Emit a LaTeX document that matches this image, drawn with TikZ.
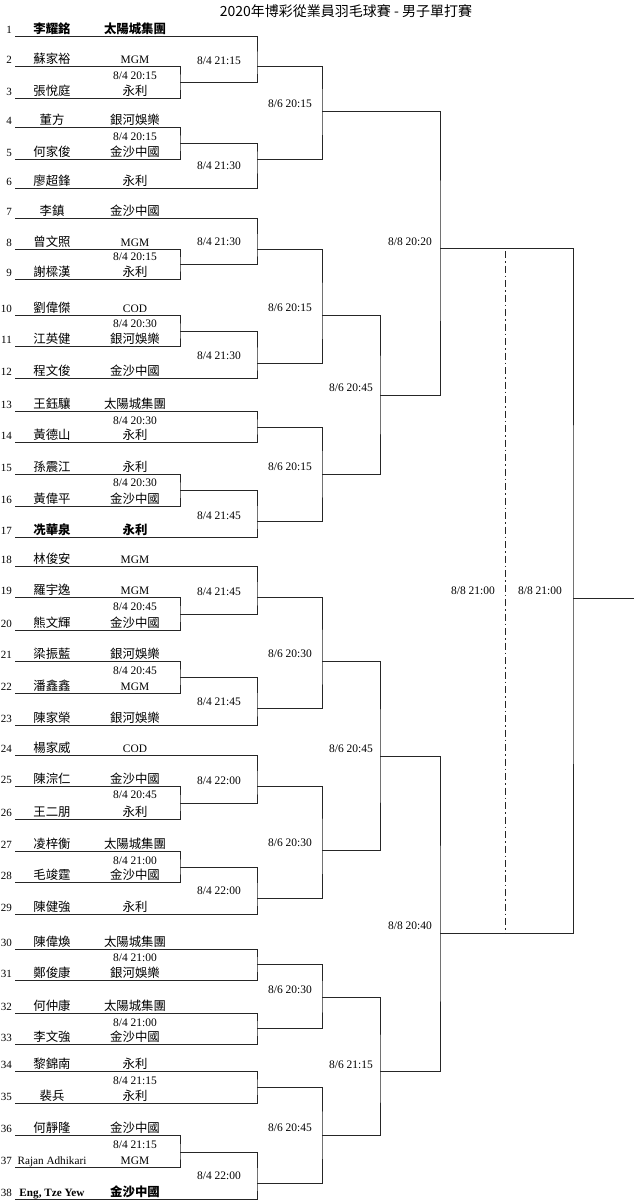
\documentclass[tikz,border=0pt]{standalone}
\usepackage{fontspec}
\setmainfont{Liberation Serif}
\newfontfamily\cjkfont{Noto Sans CJK TC}
\newcommand\zh[1]{{\cjkfont\fontsize{12.4}{14}\selectfont #1}}
\begin{document}
\begin{tikzpicture}[x = 1pt, y = -1pt,
  bline/.style = {line width = 0.9pt, draw = black!85},
  num/.style = {anchor = base east, inner sep = 0pt, font = \fontsize{11}{13}\selectfont},
  plyr/.style = {anchor = base, inner sep = 0pt, font = \fontsize{11.2}{13}\selectfont},
  club/.style = {anchor = base, inner sep = 0pt, font = \fontsize{11.4}{13}\selectfont},
  tm/.style = {inner sep = 0pt, font = \fontsize{11.5}{13}\selectfont}]
\useasboundingbox (0, 0) rectangle (634, 1200);

\node (title) at (346, 11) {\cjkfont\fontsize{14}{16}\selectfont 2020年博彩從業員羽毛球賽 - 男子單打賽};

\foreach \i/\y/\n/\c in {
  1/36/{\bfseries\zh{李耀銘}}/{\bfseries\zh{太陽城集團}}, 2/66/\zh{蘇家裕}/MGM, 3/98/\zh{張悅庭}/\zh{永利},
  4/127/\zh{董方}/\zh{銀河娛樂}, 5/159/\zh{何家俊}/\zh{金沙中國}, 6/188/\zh{廖超鋒}/\zh{永利},
  7/218/\zh{李鎮}/\zh{金沙中國}, 8/249/\zh{曾文照}/MGM, 9/279/\zh{謝樑漢}/\zh{永利},
  10/315/\zh{劉偉傑}/COD, 11/346/\zh{江英健}/\zh{銀河娛樂}, 12/378/\zh{程文俊}/\zh{金沙中國},
  13/411/\zh{王鈺驤}/\zh{太陽城集團}, 14/442/\zh{黃德山}/\zh{永利}, 15/474/\zh{孫震江}/\zh{永利},
  16/506/\zh{黃偉平}/\zh{金沙中國}, 17/537/{\bfseries\zh{冼華泉}}/{\bfseries\zh{永利}}, 18/566/\zh{林俊安}/MGM,
  19/597/\zh{羅宇逸}/MGM, 20/630/\zh{熊文輝}/\zh{金沙中國}, 21/661/\zh{梁振藍}/\zh{銀河娛樂},
  22/693/\zh{潘鑫鑫}/MGM, 23/725/\zh{陳家榮}/\zh{銀河娛樂}, 24/755/\zh{楊家威}/COD,
  25/786/\zh{陳淙仁}/\zh{金沙中國}, 26/819/\zh{王二朋}/\zh{永利}, 27/851/\zh{凌梓衡}/\zh{太陽城集團},
  28/882/\zh{毛竣霆}/\zh{金沙中國}, 29/914/\zh{陳健強}/\zh{永利}, 30/949/\zh{陳偉煥}/\zh{太陽城集團},
  31/980/\zh{鄭俊康}/\zh{銀河娛樂}, 32/1013/\zh{何仲康}/\zh{太陽城集團}, 33/1044/\zh{李文強}/\zh{金沙中國},
  34/1071/\zh{黎錦南}/\zh{永利}, 35/1103/\zh{裴兵}/\zh{永利}, 36/1135/\zh{何靜隆}/\zh{金沙中國},
  37/1167/Rajan Adhikari/MGM, 38/1199/{\bfseries Eng, Tze Yew}/{\bfseries\zh{金沙中國}}} {
  \coordinate (p\i) at (15, \y);
  \node[num] (n\i) at (12, \y - 2.5) {\i};
  \node[plyr] (pl\i) at (52, \y - 2.5) {\n};
  \node[club] (c\i) at (135, \y - 2.5) {\c};
}

\foreach \m/\x/\y in {m2/180/82, m4/180/143, m8/180/264, m10/180/331, m15/180/490,
  m19/180/614, m21/180/677, m25/180/803, m27/180/867, m36/180/1152,
  ga/257/66, gb/257/159, gc/257/249, gd/257/363, ge/257/427, gf/257/521, gg/257/597,
  gh/257/708, gi/257/786, gj/257/898, gk/257/964, gl/257/1028, gm/257/1087, gn/257/1183,
  sab/322/111, scd/322/315, sef/322/474, sgh/322/661, sij/322/850, skl/322/997, smn/322/1135,
  qf1/380/395, qf2/380/756, qf3/380/1071, sf1/440/248, sf2/440/933, fin/573/598, win/634/598}
  \coordinate (\m) at (\x, \y);

\foreach \a/\b/\m in {p2/p3/m2, p4/p5/m4, p8/p9/m8, p10/p11/m10, p15/p16/m15,
  p19/p20/m19, p21/p22/m21, p25/p26/m25, p27/p28/m27, p36/p37/m36,
  p1/m2/ga, m4/p6/gb, p7/m8/gc, m10/p12/gd, p13/p14/ge, m15/p17/gf, p18/m19/gg,
  m21/p23/gh, p24/m25/gi, m27/p29/gj, p30/p31/gk, p32/p33/gl, p34/p35/gm, m36/p38/gn,
  ga/gb/sab, gc/gd/scd, ge/gf/sef, gg/gh/sgh, gi/gj/sij, gk/gl/skl, gm/gn/smn,
  scd/sef/qf1, sgh/sij/qf2, skl/smn/qf3, sab/qf1/sf1, qf2/qf3/sf2, sf1/sf2/fin}
  \draw[bline] (\a) -| (\m) |- (\b);
\draw[bline] (fin) -- (win);

\coordinate (dtop) at (505, 251);
\coordinate (dbot) at (505, 933);
\draw[line width = 0.8pt, draw = black!85, dash pattern = on 7pt off 3pt on 1.5pt off 3pt] (dtop) -- (dbot);

\foreach \x/\y/\t [count = \k] in {
  135/76/{8/4 20:15}, 135/137/{8/4 20:15}, 135/257/{8/4 20:15}, 135/324/{8/4 20:30},
  135/421/{8/4 20:30}, 135/483/{8/4 20:30}, 135/607/{8/4 20:45}, 135/671/{8/4 20:45},
  135/795/{8/4 20:45}, 135/861/{8/4 21:00}, 135/958/{8/4 21:00}, 135/1023/{8/4 21:00},
  135/1081/{8/4 21:15}, 135/1145/{8/4 21:15},
  219/61/{8/4 21:15}, 219/166/{8/4 21:30}, 219/242/{8/4 21:30}, 219/356/{8/4 21:30},
  219/516/{8/4 21:45}, 219/592/{8/4 21:45}, 219/702/{8/4 21:45}, 219/781/{8/4 22:00},
  219/891/{8/4 22:00}, 219/1176/{8/4 22:00},
  290/104/{8/6 20:15}, 290/308/{8/6 20:15}, 290/467/{8/6 20:15}, 290/654/{8/6 20:30},
  290/843/{8/6 20:30}, 290/990/{8/6 20:30}, 290/1128/{8/6 20:45},
  351/388/{8/6 20:45}, 351/749/{8/6 20:45}, 351/1065/{8/6 21:15},
  410/242/{8/8 20:20}, 410/926/{8/8 20:40}, 473/591/{8/8 21:00}, 540/591/{8/8 21:00}}
  \node[tm] (t\k) at (\x, \y) {\t};
\end{tikzpicture}
\end{document}
